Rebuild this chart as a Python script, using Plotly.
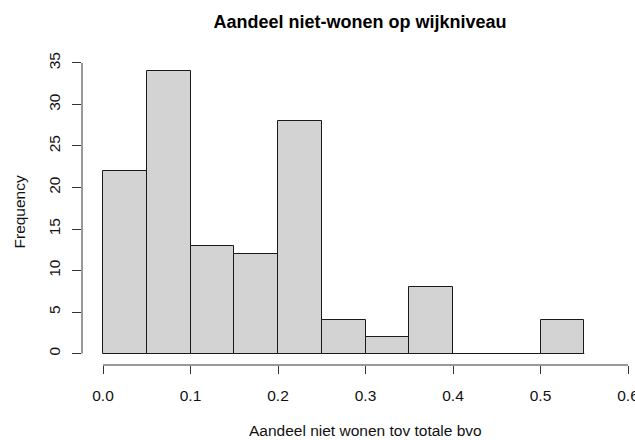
import plotly.graph_objects as go

# Histogram bins (width 0.05) and their counts
bin_starts = [0.00, 0.05, 0.10, 0.15, 0.20, 0.25, 0.30, 0.35, 0.40, 0.45, 0.50]
counts = [22, 34, 13, 12, 28, 4, 2, 8, 0, 0, 4]
bin_width = 0.05

x_ticks = [0.0, 0.1, 0.2, 0.3, 0.4, 0.5, 0.6]
x_tick_text = ["0.0", "0.1", "0.2", "0.3", "0.4", "0.5", "0.6"]
y_ticks = [0, 5, 10, 15, 20, 25, 30, 35]

title = "Aandeel niet-wonen op wijkniveau"
x_title = "Aandeel niet wonen tov totale bvo"
y_title = "Frequency"

W, H = 635, 440
L, R, T, B = 82, 0, 60, 75
FONT = "Liberation Sans, Arial, Helvetica, sans-serif"
FS = 15.5
AXIS_COLOR = "#333333"
BAR_EDGE = "#1a1a1a"

centers = [s + bin_width / 2 for s in bin_starts]

fig = go.Figure(
    go.Bar(
        x=centers,
        y=counts,
        width=[bin_width] * len(counts),
        marker=dict(color="#D3D3D3", line=dict(color=BAR_EDGE, width=1)),
        hoverinfo="skip",
    )
)

# empty bins still show their zero-height outline along the base
fig.add_shape(type="line", xref="x", yref="y",
              x0=bin_starts[0], x1=bin_starts[-1] + bin_width, y0=0, y1=0,
              line=dict(color=BAR_EDGE, width=1), layer="below")

# axis lines that span only the tick range
fig.add_shape(type="line", xref="x", yref="paper",
              x0=x_ticks[0], x1=x_ticks[-1], y0=0, y1=0,
              line=dict(color=AXIS_COLOR, width=1))
fig.add_shape(type="line", xref="paper", yref="y",
              x0=0, x1=0, y0=y_ticks[0], y1=y_ticks[-1],
              line=dict(color=AXIS_COLOR, width=1))

pw = W - L - R
ph = H - T - B

fig.update_layout(
    width=W,
    height=H,
    margin=dict(l=L, r=R, t=T, b=B, pad=0, autoexpand=False),
    paper_bgcolor="white",
    plot_bgcolor="white",
    bargap=0,
    showlegend=False,
    font=dict(family=FONT, size=FS, color="#111111"),
    title=dict(
        text="<b>" + title + "</b>",
        x=360 / W, xanchor="center",
        y=1 - 22 / H, yanchor="middle",
        font=dict(family=FONT, size=18, color="#000000"),
    ),
    xaxis=dict(
        range=[-0.024, 0.608],
        tickvals=x_ticks,
        ticktext=x_tick_text,
        ticks="outside",
        ticklen=8,
        tickcolor=AXIS_COLOR,
        showgrid=False,
        zeroline=False,
        showline=False,
        automargin=False,
        ticklabelstandoff=8,
        ticklabeloverflow="allow",
        tickfont=dict(size=FS),
    ),
    yaxis=dict(
        range=[-1.384, 35.36],
        tickvals=y_ticks,
        ticks="outside",
        ticklen=9,
        tickcolor=AXIS_COLOR,
        tickangle=-90,
        showgrid=False,
        zeroline=False,
        showline=False,
        automargin=False,
        ticklabelstandoff=6,
        tickfont=dict(size=FS),
    ),
    annotations=[
        dict(text=x_title, xref="paper", yref="paper",
             x=(365.5 - L) / pw, y=-(430 - (T + ph)) / ph,
             xanchor="center", yanchor="middle", showarrow=False,
             font=dict(size=FS)),
        dict(text=y_title, xref="paper", yref="paper",
             x=-(L - 18.5) / pw, y=1 - (212 - T) / ph,
             xanchor="center", yanchor="middle", showarrow=False,
             textangle=-90, font=dict(size=FS)),
    ],
)

fig.write_html("out.html")
